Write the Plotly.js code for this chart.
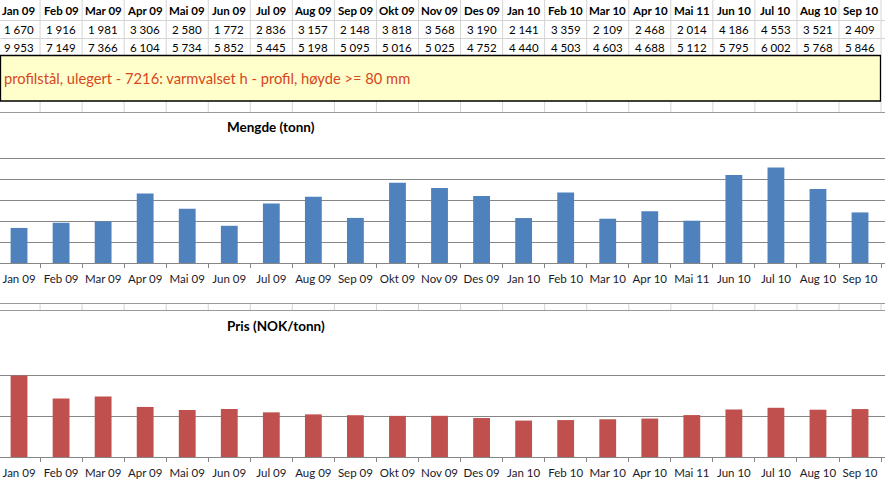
<!DOCTYPE html>
<html>
<head>
<meta charset="utf-8">
<script src="https://cdn.plot.ly/plotly-3.0.1.min.js"></script>
<style>
  html, body { margin: 0; padding: 0; background: #fff; }
  #chart { width: 885px; height: 483px; }
</style>
</head>
<body>
<div id="chart"></div>
<script>
// ---- data ----
const months = ["Jan 09","Feb 09","Mar 09","Apr 09","Mai 09","Jun 09","Jul 09","Aug 09","Sep 09","Okt 09","Nov 09","Des 09","Jan 10","Feb 10","Mar 10","Apr 10","Mai 11","Jun 10","Jul 10","Aug 10","Sep 10"];
const mengde = [1670,1916,1981,3306,2580,1772,2836,3157,2148,3818,3568,3190,2141,3359,2109,2468,2014,4186,4553,3521,2409];
const pris = [9953,7149,7366,6104,5734,5852,5445,5198,5095,5016,5025,4752,4440,4503,4603,4688,5112,5795,6002,5768,5846];
const product = "profilstål, ulegert - 7216: varmvalset h - profil, høyde >= 80 mm";
const title1 = "Mengde (tonn)";
const title2 = "Pris (NOK/tonn)";

// ---- layout helpers ----
const W = 885, H = 483;
const px = x => x / W;
const py = y => 1 - y / H;
const fmt = v => String(v).replace(/\B(?=(\d{3})+(?!\d))/g, " ");
const FONT = "Lato, 'Open Sans', sans-serif";
const colW = 42.05, colStart = -2;
const colCenter = k => colStart + colW * (k + 0.5);

const shapes = [];
const cellLine = "#d4d4d4";
function hline(y, color, w) {
  shapes.push({type: "line", xref: "paper", yref: "paper", x0: 0, x1: 1, y0: py(y), y1: py(y), line: {color: color, width: w || 1}, layer: "below"});
}
function vline(x, y0, y1, color) {
  shapes.push({type: "line", xref: "paper", yref: "paper", x0: px(x), x1: px(x), y0: py(y0), y1: py(y1), line: {color: color, width: 1}, layer: "below"});
}
for (let k = 0; k < months.length; k++) {
  const x = colStart + colW * (k + 1);
  vline(x, 0, 55, cellLine);
  vline(x, 101, 113, cellLine);
  vline(x, 304, 311, cellLine);
}
hline(20.5, cellLine);
hline(38.5, cellLine);
hline(112.5, "#9a9a9a");
hline(303.5, "#9a9a9a");
hline(310.5, "#9a9a9a");
// yellow note box
shapes.push({type: "rect", xref: "paper", yref: "paper", x0: px(0.5), x1: px(880.5), y0: py(55.5), y1: py(101), fillcolor: "#ffffcc", line: {color: "#000", width: 1.3}, layer: "below"});

const annotations = [];
months.forEach((m, k) => {
  annotations.push({xref: "paper", yref: "paper", x: px(colCenter(k)), y: py(10.5), text: "<b>" + m + "</b>", showarrow: false, xanchor: "center", yanchor: "middle", font: {family: FONT, size: 11.5, color: "#000"}});
  annotations.push({xref: "paper", yref: "paper", x: px(colCenter(k)), y: py(29.5), text: fmt(mengde[k]), showarrow: false, xanchor: "center", yanchor: "middle", font: {family: FONT, size: 11.5, color: "#000"}});
  annotations.push({xref: "paper", yref: "paper", x: px(colCenter(k)), y: py(47), text: fmt(pris[k]), showarrow: false, xanchor: "center", yanchor: "middle", font: {family: FONT, size: 11.5, color: "#000"}});
});
annotations.push({xref: "paper", yref: "paper", x: px(2), y: py(78), text: product, showarrow: false, xanchor: "left", yanchor: "middle", font: {family: FONT, size: 14.7, color: "#d8461b"}});
annotations.push({xref: "paper", yref: "paper", x: px(225), y: py(127), text: "<b>" + title1 + "</b>", showarrow: false, xanchor: "left", yanchor: "middle", font: {family: FONT, size: 13.5, color: "#000"}});
annotations.push({xref: "paper", yref: "paper", x: px(225), y: py(326), text: "<b>" + title2 + "</b>", showarrow: false, xanchor: "left", yanchor: "middle", font: {family: FONT, size: 13.5, color: "#000"}});

const xr = [-0.5 - colStart / colW, 0];
xr[1] = xr[0] + W / colW;

const gridC = "#868686";
const xaxisBase = {
  type: "category", range: xr, showline: true, linecolor: gridC, linewidth: 1,
  ticks: "outside", tickson: "boundaries", ticklen: 4, tickcolor: gridC,
  showgrid: false, zeroline: false, tickangle: 0, automargin: false, ticklabelstandoff: 5,
  tickfont: {family: FONT, size: 11.5, color: "#1a1a2a"}, fixedrange: true
};
const yaxisBase = {showgrid: true, gridcolor: gridC, gridwidth: 1, showticklabels: false, ticks: "", zeroline: false, showline: false, fixedrange: true};

const data = [
  {type: "bar", x: months, y: mengde, xaxis: "x", yaxis: "y", marker: {color: "#4f81bd"}, hoverinfo: "x+y"},
  {type: "bar", x: months, y: pris, xaxis: "x2", yaxis: "y2", marker: {color: "#c0504d"}, hoverinfo: "x+y"}
];

const layout = {
  width: W, height: H, margin: {l: 0, r: 0, t: 0, b: 0},
  paper_bgcolor: "#fff", plot_bgcolor: "rgba(0,0,0,0)",
  showlegend: false, bargap: 0.6,
  xaxis: Object.assign({}, xaxisBase, {domain: [0, 1], anchor: "y"}),
  yaxis: Object.assign({}, yaxisBase, {domain: [py(263), py(137)], range: [0, 6000.5], dtick: 1000, anchor: "x"}),
  xaxis2: Object.assign({}, xaxisBase, {domain: [0, 1], anchor: "y2"}),
  yaxis2: Object.assign({}, yaxisBase, {domain: [py(457), py(334)], range: [0, 15001], dtick: 5000, anchor: "x2"}),
  shapes: shapes, annotations: annotations
};

Plotly.newPlot("chart", data, layout, {displayModeBar: false, staticPlot: true});
</script>
</body>
</html>
